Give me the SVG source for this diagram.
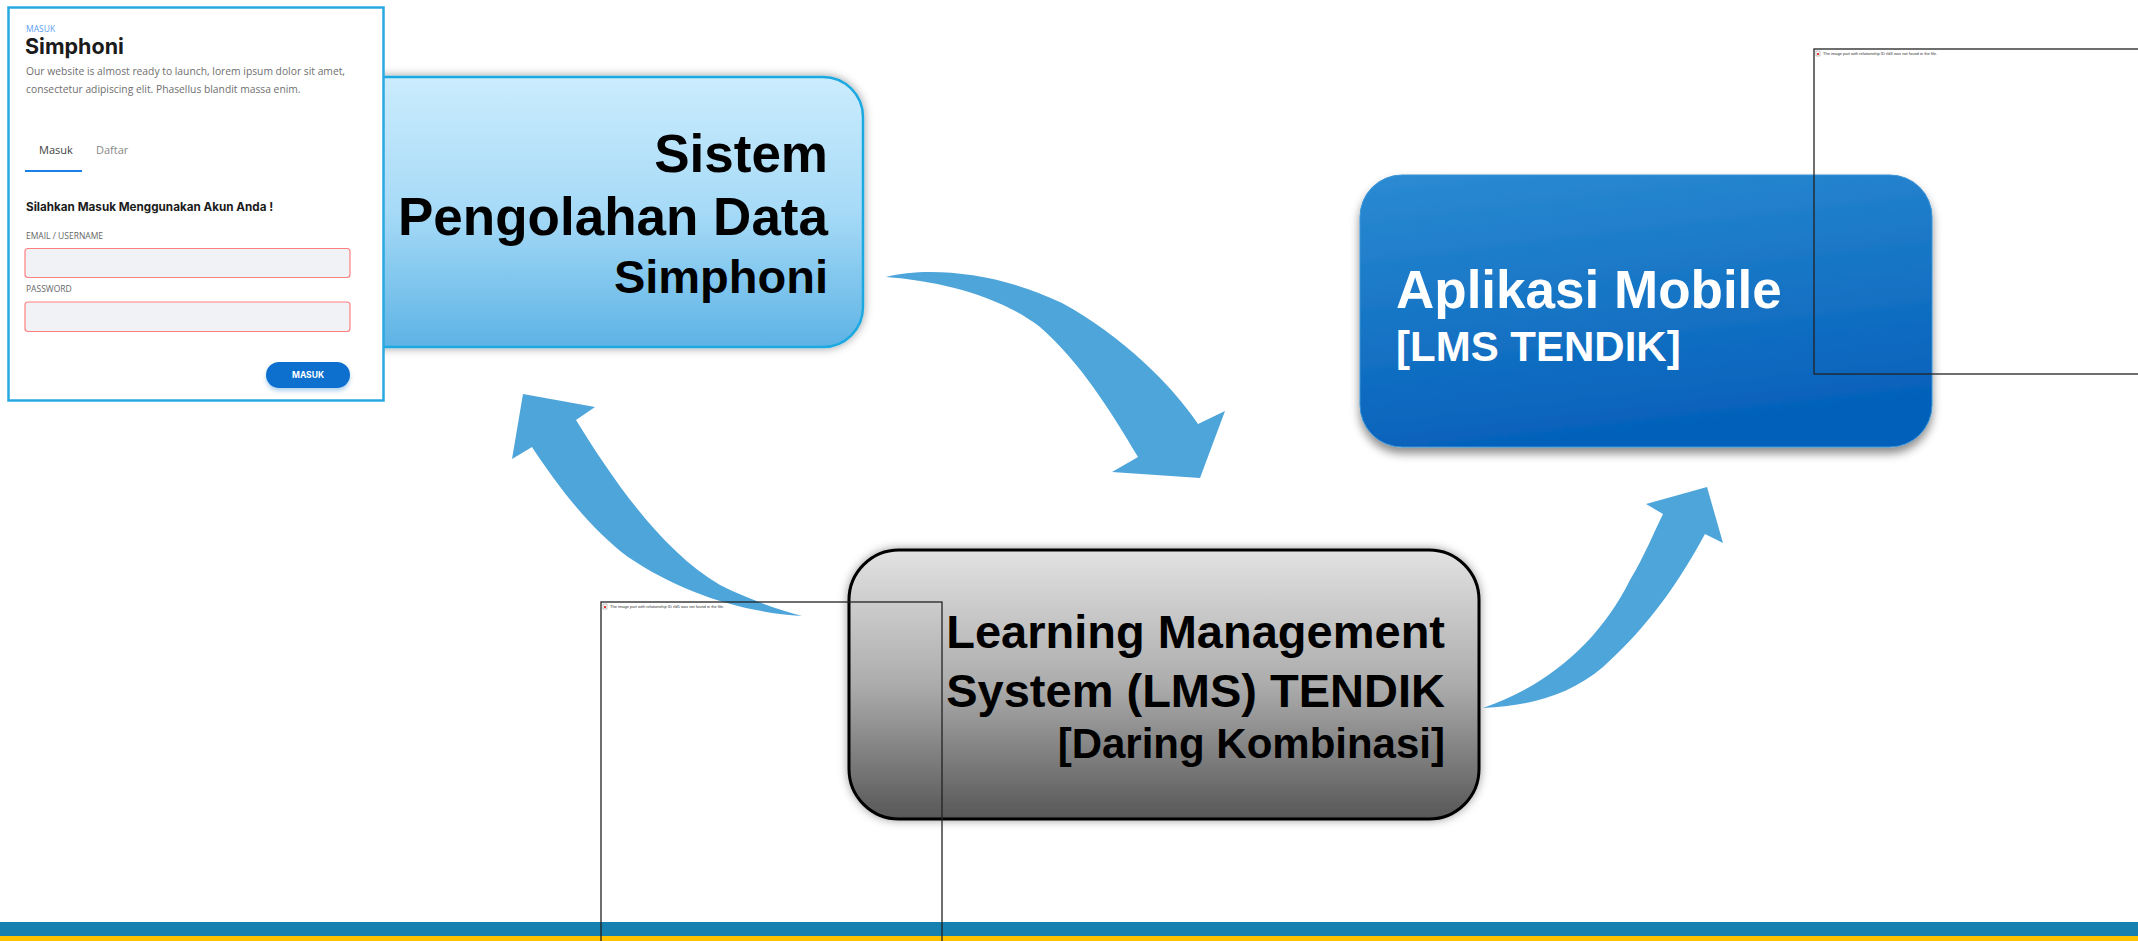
<svg xmlns="http://www.w3.org/2000/svg" width="2138" height="941" viewBox="0 0 2138 941">
<style>
.big{font-family:"Liberation Sans",Arial,sans-serif;font-weight:bold;}
.arrow{fill:#4ea5da;}
.frame{fill:none;stroke:#222;stroke-width:1.3;}
.tiny{font-family:"Liberation Sans",Arial,sans-serif;font-size:4px;fill:#333;}
.lbl{font-family:"Open Sans","Liberation Sans",sans-serif;font-size:8.5px;fill:#666;}
</style>
<defs>
<linearGradient id="gBlueLight" x1="0" y1="0" x2="0" y2="1">
<stop offset="0" stop-color="#cbecfd"/>
<stop offset="0.5" stop-color="#a6daf7"/>
<stop offset="1" stop-color="#5db3e5"/>
</linearGradient>
<linearGradient id="gGray" x1="0" y1="0" x2="0" y2="1">
<stop offset="0" stop-color="#e2e2e2"/>
<stop offset="0.5" stop-color="#acacac"/>
<stop offset="1" stop-color="#575757"/>
</linearGradient>
<linearGradient id="gBlue" x1="0" y1="0" x2="0.25" y2="1">
<stop offset="0" stop-color="#2b8bd2"/>
<stop offset="1" stop-color="#0561ba"/>
</linearGradient>
<filter id="sh" x="-10%" y="-10%" width="120%" height="130%">
<feDropShadow dx="0" dy="6" stdDeviation="5" flood-color="#000" flood-opacity="0.45"/>
</filter>
<filter id="sh2" x="-10%" y="-10%" width="120%" height="130%">
<feDropShadow dx="0" dy="0" stdDeviation="5" flood-color="#000" flood-opacity="0.4"/>
</filter>
<filter id="sh3" x="-10%" y="-10%" width="120%" height="130%">
<feDropShadow dx="0" dy="3" stdDeviation="2" flood-color="#1170cf" flood-opacity="0.3"/>
</filter>
</defs>
<rect x="0" y="0" width="2138" height="941" fill="#ffffff"/>

<g id="connectors">
<path class="arrow" d="M886,277 C930,266 1000,273 1062,303 C1122,336 1172,385 1198,424 L1225,411 L1200,478 L1112,472 L1138,457 C1110,410 1080,362 1040,327 C1000,296 940,281 886,277 Z"/>
<path class="arrow" d="M523,394 L595,407 L576,420 C610,475 660,550 720,585 C750,600 780,610 802,616 C740,612 680,592 628,557 C588,527 555,482 532,447 L512,459 Z"/>
<path class="arrow" d="M1483,708 C1550,685 1600,640 1630,580 C1645,555 1655,530 1663,514 L1646,504 L1707,487 L1723,543 L1705,534 C1680,580 1650,625 1603,667 C1570,695 1530,706 1483,708 Z"/>
</g>

<g id="node-simphoni">
<rect x="300" y="77" width="563" height="270" rx="40" fill="url(#gBlueLight)" stroke="#1fa8e0" stroke-width="2.5" filter="url(#sh2)"/>
<text class="big" font-size="53" text-anchor="end" x="828" y="172">Sistem</text>
<text class="big" font-size="53" text-anchor="end" x="828" y="235">Pengolahan Data</text>
<text class="big" font-size="47" text-anchor="end" x="828" y="293">Simphoni</text>
</g>

<g id="login-card">
<rect x="8.5" y="7.5" width="375" height="393" fill="#ffffff" stroke="#29a9e1" stroke-width="2.5"/>
<text x="26" y="32" font-family="Open Sans, Liberation Sans, sans-serif" font-size="8.5" fill="#5a9ef0">MASUK</text>
<text x="25" y="54" font-family="Inter, Liberation Sans, sans-serif" font-weight="bold" font-size="21.5" fill="#1b1b1b">Simphoni</text>
<text x="26" y="75" font-family="Open Sans, Liberation Sans, sans-serif" font-size="10.3" fill="#6f6f6f">Our website is almost ready to launch, lorem ipsum dolor sit amet,</text>
<text x="26" y="93" font-family="Open Sans, Liberation Sans, sans-serif" font-size="10.3" fill="#6f6f6f">consectetur adipiscing elit. Phasellus blandit massa enim.</text>
<text x="39" y="154" font-family="Open Sans, Liberation Sans, sans-serif" font-size="11" fill="#444">Masuk</text>
<text x="96" y="154" font-family="Open Sans, Liberation Sans, sans-serif" font-size="11" fill="#888">Daftar</text>
<rect x="25" y="170" width="57" height="2" fill="#1a7fe6"/>
<text x="26" y="211" font-family="Inter, Liberation Sans, sans-serif" font-weight="bold" font-size="11.7" fill="#1b1b1b">Silahkan Masuk Menggunakan Akun Anda !</text>
<text class="lbl" x="26" y="239">EMAIL / USERNAME</text>
<rect x="25" y="248.5" width="325" height="29" rx="3" fill="#f1f2f6" stroke="#ff8080" stroke-width="1.2"/>
<text class="lbl" x="26" y="292">PASSWORD</text>
<rect x="25" y="302" width="325" height="29.5" rx="3" fill="#f1f2f6" stroke="#ff8080" stroke-width="1.2"/>
<rect x="266" y="362" width="84" height="26" rx="13" fill="#1170cf" filter="url(#sh3)"/>
<text x="308" y="378" text-anchor="middle" font-family="Inter, Liberation Sans, sans-serif" font-weight="bold" font-size="8.5" fill="#ffffff">MASUK</text>
</g>

<g id="node-lms">
<rect x="849" y="550" width="630" height="269" rx="50" fill="url(#gGray)" stroke="#000" stroke-width="3" filter="url(#sh2)"/>
<text class="big" font-size="47" text-anchor="end" x="1445" y="648">Learning Management</text>
<text class="big" font-size="47" text-anchor="end" x="1445" y="707">System (LMS) TENDIK</text>
<text class="big" font-size="42" text-anchor="end" x="1445" y="758">[Daring Kombinasi]</text>
</g>

<g id="node-aplikasi">
<rect x="1360" y="175" width="572" height="272" rx="42" fill="url(#gBlue)" stroke="#3a93d6" stroke-width="1" filter="url(#sh)"/>
<text class="big" font-size="53" fill="#ffffff" x="1396" y="308">Aplikasi Mobile</text>
<text class="big" font-size="42" fill="#ffffff" x="1396" y="361">[LMS TENDIK]</text>
</g>

<g id="bottom-bar">
<rect x="0" y="922" width="2138" height="14" fill="#1681b0"/>
<rect x="0" y="936" width="2138" height="5" fill="#fdc300"/>
</g>

<g id="broken-image-1">
<rect class="frame" x="1814" y="49" width="330" height="325"/>
<rect x="1816" y="51" width="4" height="5" fill="#fff" stroke="#888" stroke-width="0.5"/>
<rect x="1817" y="53" width="2" height="2" fill="#e33"/>
<text class="tiny" x="1823" y="55">The image part with relationship ID rId3 was not found in the file.</text>
</g>

<g id="broken-image-2">
<rect class="frame" x="601" y="602" width="341" height="345"/>
<rect x="603" y="604" width="4" height="5" fill="#fff" stroke="#888" stroke-width="0.5"/>
<rect x="604" y="606" width="2" height="2" fill="#e33"/>
<text class="tiny" x="610" y="608">The image part with relationship ID rId5 was not found in the file.</text>
</g>
</svg>
